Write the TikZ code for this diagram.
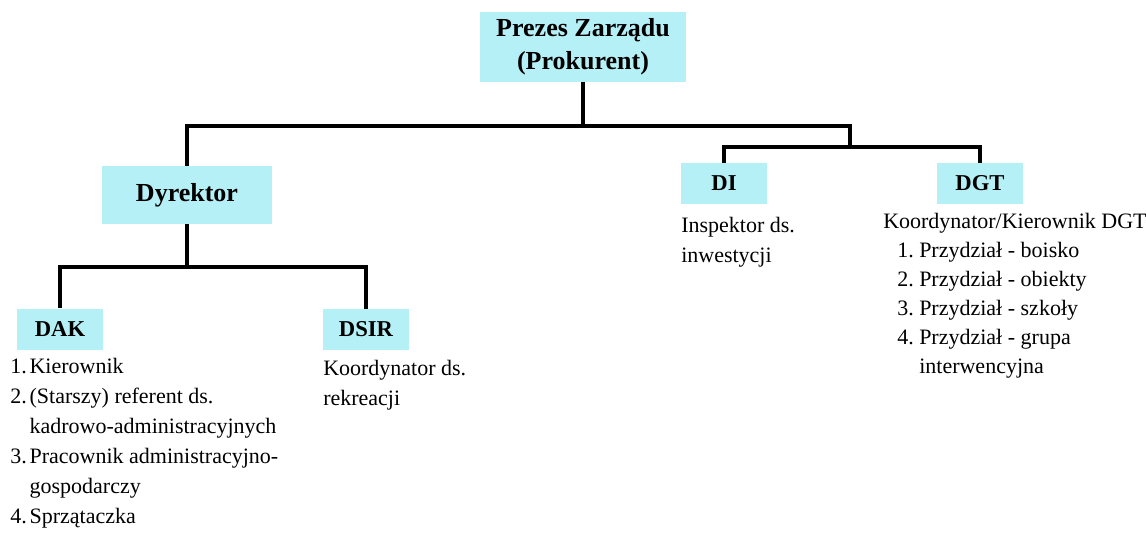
\documentclass[tikz,border=0pt]{standalone}
\usepackage{fontspec}
\setmainfont{Liberation Serif}
\usetikzlibrary{positioning}
\definecolor{boxcyan}{RGB}{182,240,247}
\newcommand{\lnum}[2][14.5pt]{\makebox[#1][l]{#2}}

\begin{document}
\begin{tikzpicture}[
  x=0.75pt, y=-0.75pt,
  unit/.style={fill=boxcyan, inner sep=0pt, font=\bfseries\fontsize{17}{20}\selectfont,
    minimum width=64.5pt, minimum height=30.75pt},
  head/.style={unit, font=\bfseries\fontsize{19.5}{24.75}\selectfont, align=center},
  duty/.style={inner sep=0pt, anchor=base west, align=left, font=\fontsize{16.5}{22.5}\selectfont},
  conn/.style={draw=black, line width=2.3pt},
]
\useasboundingbox (0,0) rectangle (1146,532);

% boxes
\node[head, minimum width=154.5pt, minimum height=52.5pt] (prezes) at (583,47) {Prezes Zarządu\\(Prokurent)};
\node[head, minimum width=127.5pt, minimum height=43.5pt] (dyr) at (187,195) {Dyrektor};
\node[unit] (dak) at (60,329) {DAK};
\node[unit] (dsir) at (366,329.5) {DSIR};
\node[unit] (di) at (724,183.5) {DI};
\node[unit] (dgt) at (980,183.5) {DGT};

% junctions
\coordinate (rjoin) at (850,126);
\coordinate (ijoin) at (850,147);
\coordinate (dyrjoin) at (187,267);

% connectors
\draw[conn] (prezes.south) -- (prezes.south |- rjoin);
\draw[conn] (dyr.north) |- (rjoin) -- (ijoin);
\draw[conn] (di.north) |- (ijoin) -| (dgt.north);
\draw[conn] (dyr.south) -- (dyrjoin);
\draw[conn] (dak.north) |- (dyrjoin) -| (dsir.north);

% duties (anchored at the last line)
\node[duty] (dakduty) at (10,523) {\lnum{1.}Kierownik\\
  \lnum{2.}(Starszy) referent ds.\\
  \lnum{}kadrowo-administracyjnych\\
  \lnum{3.}Pracownik administracyjno-\\
  \lnum{}gospodarczy\\
  \lnum{4.}Sprzątaczka};
\node[duty] (dsirduty) at (323,405) {Koordynator ds.\\rekreacji};
\node[duty] (diduty) at (681,262) {Inspektor ds.\\inwestycji};
\node[duty, font=\fontsize{16.5}{21.75}\selectfont] (dgtduty) at (883,373) {Koordynator/Kierownik DGT\\
  \hspace*{10.5pt}\lnum[16.5pt]{1.}Przydział - boisko\\
  \hspace*{10.5pt}\lnum[16.5pt]{2.}Przydział - obiekty\\
  \hspace*{10.5pt}\lnum[16.5pt]{3.}Przydział - szkoły\\
  \hspace*{10.5pt}\lnum[16.5pt]{4.}Przydział - grupa\\
  \hspace*{10.5pt}\lnum[16.5pt]{}interwencyjna};

\end{tikzpicture}
\end{document}
